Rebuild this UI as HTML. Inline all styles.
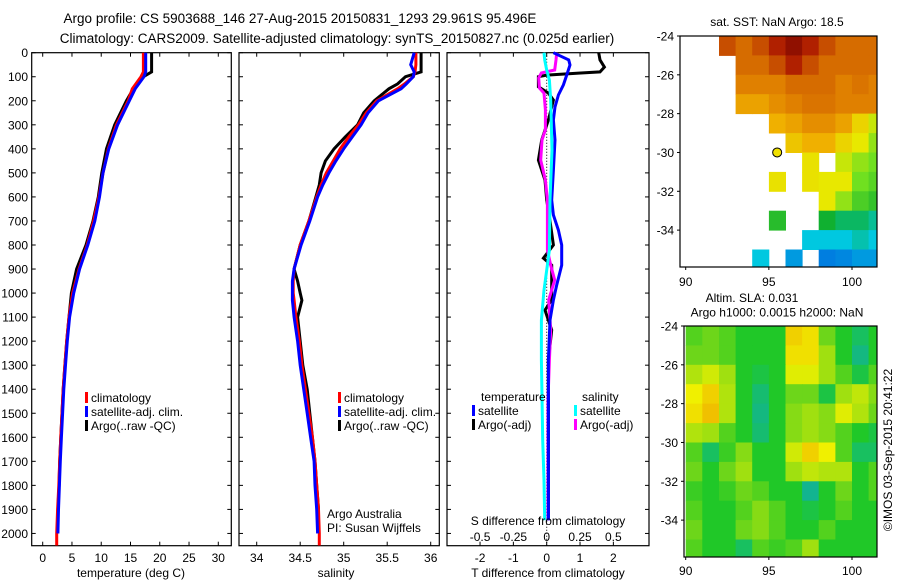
<!DOCTYPE html>
<html><head><meta charset="utf-8">
<style>
html,body{margin:0;padding:0;background:#fff;}
svg{display:block;font-family:"Liberation Sans",sans-serif;}
</style></head>
<body>
<svg id="fig" width="900" height="580" viewBox="0 0 900 580" xmlns="http://www.w3.org/2000/svg">
<rect x="0" y="0" width="900" height="580" fill="#fff"/>
<text x="300" y="23" font-size="13.5" text-anchor="middle">Argo profile: CS 5903688_146 27-Aug-2015 20150831_1293 29.961S 95.496E</text>
<text x="337" y="43" font-size="13.5" text-anchor="middle">Climatology: CARS2009. Satellite-adjusted climatology: synTS_20150827.nc (0.025d earlier)</text>
<g id="plots"></g>
</svg>
<script>
// ---- profile data ----
const tDepth = [0,80,100,150,200,300,400,500,600,700,800,900,1000,1100,1200,1300,1400,1500,1600,1700,1800,1900,2000,2050];
const tArgo  = [18.6,18.6,17.2,15.5,14.3,12.3,10.9,10.1,9.5,8.6,7.4,5.8,4.9,4.5,4.1,3.8,3.5,3.3,3.1,2.9,2.8,2.6,2.5,null];
const tClim  = [17.2,17.2,16.8,15.3,14.6,12.6,11.2,10.3,9.6,8.7,7.6,6.2,5.1,4.5,4.1,3.8,3.5,3.3,3.1,2.9,2.75,2.55,2.4,2.4];
const tSat   = [17.6,17.6,17.3,15.8,14.8,12.8,11.3,10.3,9.7,8.9,7.7,6.3,5.3,4.6,4.2,3.9,3.6,3.4,3.2,3.0,2.85,2.7,2.6,null];
const sDepth = [0,50,80,100,130,150,200,250,300,350,400,450,500,550,600,700,800,900,950,1000,1030,1100,1200,1300,1400,1500,1600,1700,1800,1900,2000,2050];
const sArgo  = [35.89,35.89,35.89,35.71,35.62,35.52,35.35,35.23,35.16,35.02,34.89,34.79,34.74,34.72,34.68,34.60,34.50,34.43,34.47,34.50,34.52,34.47,34.50,34.53,34.58,34.61,34.64,34.67,34.69,34.71,null,null];
const sSat   = [35.81,35.77,35.81,35.80,35.72,35.66,35.40,35.28,35.20,35.10,35.00,34.91,34.83,34.76,34.70,34.61,34.51,34.43,34.41,34.41,34.41,34.43,34.47,34.50,34.54,34.58,34.62,34.66,34.67,34.69,34.70,null];
const sClim  = [35.83,35.83,35.82,35.80,35.70,35.62,35.38,35.26,35.17,35.06,34.96,34.88,34.80,34.74,34.69,34.60,34.50,34.43,34.42,34.42,34.43,34.45,34.49,34.52,34.56,34.60,34.64,34.67,34.69,34.71,34.72,34.72];
// difference panel
const dTArgoDepth = [0,30,60,80,85,93,100,142,168,197,280,363,447,530,613,700,800,855,884,950,1029,1071,1154,1279,1445,1700,1945];
const dTArgo      = [1.56,1.6,1.73,1.6,0.96,0,-0.25,-0.25,0.05,0.2,0.05,-0.15,-0.25,-0.05,0,0.1,0.2,-0.1,0.15,0.15,0.15,-0.05,0.15,0.05,0.05,0.05,0.05];
const dTSatDepth  = [0,30,51,93,134,176,226,280,363,488,613,675,738,800,884,967,1029,1113,1279,1945];
const dTSat       = [0.2,0.66,0.7,0.6,0.5,0.35,0.25,0.2,0.25,0.2,0.15,0.2,0.35,0.45,0.45,0.3,0.2,0.1,0.05,0.05];
const dSSatDepth  = [0,30,72,114,197,405,613,821,905,988,1113,1279,1612,1779,1945];
const dSSat       = [-0.02,-0.015,0,0.02,0.03,0.04,0.025,0.02,0,-0.02,-0.04,-0.04,-0.03,-0.02,-0.015];
const dSArgoDepth = [0,30,72,84,105,147,168,238,321,363,447,530,613,821,884,946,1029,1154,1279,1445,1945];
const dSArgo      = [0.075,0.07,0.06,-0.04,-0.06,-0.055,-0.02,-0.01,-0.01,-0.035,-0.045,-0.01,0.005,0.005,0.03,0.06,0.015,0.03,0.02,0.01,0.01];
const depthTicks = [0,100,200,300,400,500,600,700,800,900,1000,1100,1200,1300,1400,1500,1600,1700,1800,1900,2000];
const tTicks = [0,5,10,15,20,25,30];
const sTicks = [34,34.5,35,35.5,36];
const sTickLabels = ["34","34.5","35","35.5","36"];
const dTTicks = [-2,-1,0,1,2];
const dSTicks = [-0.5,-0.25,0,0.25,0.5];
const dSTickLabels = ["-0.5","-0.25","0","0.25","0.5"];
// map data (rows lat -24..-35, cols lon 90..101), null = no data
const mapLats = [-24,-25,-26,-27,-28,-29,-30,-31,-32,-33,-34,-35];
const mapLons = [90,91,92,93,94,95,96,97,98,99,100,101];
const sst = [
[null,null,21,20.5,21,21.5,22,21.5,21,20.5,20.5,20.5],
[null,null,null,20.5,20.5,21,21.5,21,20.5,20.5,20.5,20.5],
[null,null,null,20,20,20,20.5,20.5,20.5,20,20.3,20],
[null,null,null,19.5,19.5,19.8,20,20.3,20.3,20,20,20],
[null,null,null,null,null,19.3,19.5,19.8,19.8,19.5,18.8,18.3],
[null,null,null,null,null,null,19,19.3,19.3,18.8,18.5,18],
[null,null,null,null,null,null,null,18.6,null,18.3,18,17.8],
[null,null,null,null,null,18.6,null,18.6,18.5,18.5,17.8,17.6],
[null,null,null,null,null,null,null,null,18.5,18,17.5,17.3],
[null,null,null,null,null,17.2,null,null,17,16.8,16.8,16.6],
[null,null,null,null,null,null,null,16.3,16.3,16.3,16.5,16.3],
[null,null,null,null,16.3,null,15.8,null,15.5,15.6,15.8,15.8]];
const sla = [
[0.02,0.03,0.02,0,0,0,0.12,0.11,0.03,0,-0.02,0],
[0.03,0.03,0.02,0,0,0,0.11,0.11,0.05,0,-0.04,0],
[0.06,0.08,0.05,0,-0.01,0,0.09,0.09,0.05,0.02,-0.01,0.02],
[0.1,0.12,0.06,0,-0.03,0,0.03,0.03,-0.01,0.05,0.07,0.04],
[0.11,0.13,0.06,0,-0.04,0,0.04,0.05,0.04,0.09,0.06,0.03],
[0.06,0.05,0.02,0,-0.03,0,0.04,0.05,0.04,0.02,0,-0.01],
[0.02,-0.02,0.01,0.04,0,0,0.08,0.12,0.1,0.02,-0.02,-0.02],
[0.03,0,0.03,0.05,0,0,0.05,0.07,0.06,0.06,0,0.02],
[0.01,0,0.01,0.03,0.02,0,0,-0.05,0,0.03,0,0.02],
[0.02,0,0,0.02,0.04,0.02,0,-0.01,0,0.02,0,0],
[0.03,0,0,0.03,0.04,0.02,0,0,0.02,0,0,0],
[0.02,0,0,-0.02,0.02,0.01,0.02,0.05,0,0,0,0]];
const argoPos = [95.5,-30];
const mapLatTicks = [-24,-26,-28,-30,-32,-34];
const mapLonTicks = [90,95,100];

const NS="http://www.w3.org/2000/svg";
const root=document.getElementById('plots');
function mk(tag,attrs,parent,txt){const e=document.createElementNS(NS,tag);for(const k in attrs)e.setAttribute(k,attrs[k]);if(txt!==undefined)e.textContent=txt;(parent||root).appendChild(e);return e;}

// axis functions
const Y0=52.7, YB=545.7, DMAX=2051;
const yD=d=>Y0+d*(YB-Y0)/DMAX;
const xT=v=>42.7+v*5.853;
const xS=v=>256.7+(v-34)*87;
const xDT=v=>546.7+v*33.33;
const xDS=v=>546.7+v*133.3;

function panel(x0,x1,name){
  const g=mk('g',{});
  
  
  const r=mk('rect',{x:x0,y:Y0,width:x1-x0,height:YB-Y0,fill:'none',stroke:'#000','stroke-width':1.2},g);
  
  
  depthTicks.forEach(d=>{const y=yD(d);
    mk('line',{x1:x0,x2:x0+4,y1:y,y2:y,stroke:'#000'},g);
    mk('line',{x1:x1-4,x2:x1,y1:y,y2:y,stroke:'#000'},g);});
  return g;
}
function xticks(g,x0,x1,ticks,fx,labels,ly){
  ticks.forEach((t,i)=>{const x=fx(t);
    mk('line',{x1:x,x2:x,y1:YB,y2:YB-4,stroke:'#000'},g);
    mk('line',{x1:x,x2:x,y1:Y0,y2:Y0+4,stroke:'#000'},g);
    if(labels){const l=mk('text',{x:x,y:ly,'font-size':12,'text-anchor':'middle'},g,labels[i]);
      
      }
  });
}
function line(g,depths,vals,fx,color,name){
  const pts=[];depths.forEach((d,i)=>{if(vals[i]!==null)pts.push(fx(vals[i]).toFixed(1)+','+yD(d).toFixed(1));});
  const p=mk('polyline',{points:pts.join(' '),fill:'none',stroke:color,'stroke-width':3,'stroke-linejoin':'miter'},g);
  
  
}
function legend(g,x,y,color,text,name){
  mk('rect',{x:x,y:y-10,width:3,height:11,fill:color},g);
  const t=mk('text',{x:x+6,y:y,'font-size':12},g,text);
  
  
}
depthTicks.forEach(d=>{const t=mk('text',{x:28,y:yD(d)+4.5,'font-size':12,'text-anchor':'end'},root,String(d));
  
  });

// panel 1 temperature
const p1=panel(31.7,231.3,'temperature-panel');
xticks(p1,31.7,231.3,tTicks,xT,tTicks.map(String),562);
line(p1,tDepth,tArgo,xT,'#000','temp-argo-line');
line(p1,tDepth,tClim,xT,'#f00','temp-clim-line');
line(p1,tDepth,tSat,xT,'#00f','temp-sat-line');
legend(p1,85,402,'#f00','climatology','legend-climatology');
legend(p1,85,416,'#00f','satellite-adj. clim.','legend-satellite-adj');
legend(p1,85,430,'#000','Argo(..raw -QC)','legend-argo');
const xt1=mk('text',{x:131,y:577,'font-size':12,'text-anchor':'middle'},p1,'temperature (deg C)');



// panel 2 salinity
const p2=panel(239,439.3,'salinity-panel');
xticks(p2,239,439.3,sTicks,xS,sTickLabels,562);
line(p2,sDepth,sArgo,xS,'#000','sal-argo-line');
line(p2,sDepth,sClim,xS,'#f00','sal-clim-line');
line(p2,sDepth,sSat,xS,'#00f','sal-sat-line');
legend(p2,338,402,'#f00','climatology','legend-climatology-2');
legend(p2,338,416,'#00f','satellite-adj. clim.','legend-satellite-adj-2');
legend(p2,338,430,'#000','Argo(..raw -QC)','legend-argo-2');
const xt2=mk('text',{x:336,y:577,'font-size':12,'text-anchor':'middle'},p2,'salinity');


mk('text',{x:327,y:518,'font-size':12},p2,'Argo Australia');
mk('text',{x:327,y:532,'font-size':12},p2,'PI: Susan Wijffels');

// panel 3 differences
const p3=panel(447,649,'difference-panel');
xticks(p3,447,649,dTTicks,xDT,dTTicks.map(String),562);
mk('line',{x1:xDT(0),x2:xDT(0),y1:Y0,y2:YB,stroke:'#000','stroke-dasharray':'1,2'},p3);
line(p3,dTArgoDepth,dTArgo,xDT,'#000','dT-argo-line');
line(p3,dSArgoDepth,dSArgo,xDS,'#f0f','dS-argo-line');
line(p3,dTSatDepth,dTSat,xDT,'#00f','dT-sat-line');
line(p3,dSSatDepth,dSSat,xDS,'#0ff','dS-sat-line');
dSTicks.forEach((t,i)=>{mk('text',{x:xDS(t),y:541,'font-size':12,'text-anchor':'middle'},p3,dSTickLabels[i]);});
mk('text',{x:548,y:525,'font-size':12,'text-anchor':'middle'},p3,'S difference from climatology');
const xt3=mk('text',{x:548,y:577,'font-size':12,'text-anchor':'middle'},p3,'T difference from climatology');


mk('text',{x:481,y:401,'font-size':12},p3,'temperature');
mk('text',{x:582,y:401,'font-size':12},p3,'salinity');
legend(p3,472,415,'#00f','satellite','legend-t-satellite');
legend(p3,472,429,'#000','Argo(-adj)','legend-t-argo');
legend(p3,574,415,'#0ff','satellite','legend-s-satellite');
legend(p3,574,429,'#f0f','Argo(-adj)','legend-s-argo');

// maps
function lerpColor(stops,v){
  if(v<=stops[0][0])return stops[0][1];
  for(let i=1;i<stops.length;i++){if(v<=stops[i][0]){const a=stops[i-1],b=stops[i];const f=(v-a[0])/(b[0]-a[0]);
    const ca=a[1].match(/\w\w/g).map(h=>parseInt(h,16)),cb=b[1].match(/\w\w/g).map(h=>parseInt(h,16));
    return '#'+ca.map((c,j)=>Math.round(c+(cb[j]-c)*f).toString(16).padStart(2,'0')).join('');}}
  return stops[stops.length-1][1];
}
const sstStops=[[15,'#0050e0'],[16.3,'#00c8e0'],[17,'#10b030'],[17.8,'#70e020'],[18.5,'#e8e800'],[19.3,'#f0b000'],[20,'#e08000'],[20.8,'#d06000'],[21.5,'#b02000'],[22,'#901000']];
const slaStops=[[-0.06,'#10b0a0'],[-0.02,'#18c060'],[0,'#20c828'],[0.05,'#a0e010'],[0.1,'#f0f000'],[0.14,'#f0b000']];
function drawMap(name,left,right,top,bottom,grid,stops,titleLines,titleY,xlabY){
  const g=mk('g',{});
  
  
  const lonX=lon=>685.7+(lon-90)*16.63;
  const latY=lat=>top+(-24-lat)*((bottom-top)/11.9);
  const cid=name+'-clip';
  const cp=mk('clipPath',{id:cid},g);mk('rect',{x:left,y:top,width:right-left,height:bottom-top},cp);
  const cells=mk('g',{'clip-path':'url(#'+cid+')'},g);
  grid.forEach((row,i)=>row.forEach((v,j)=>{
    if(v===null)return;
    const x=lonX(mapLons[j]), y=latY(mapLats[i]);
    const w=lonX(mapLons[j]+1)-x+0.5, h=latY(mapLats[i]-1)-y+0.5;
    const c=mk('rect',{x:x.toFixed(1),y:y.toFixed(1),width:w.toFixed(1),height:h.toFixed(1),fill:lerpColor(stops,v)},cells);
    
    
  }));
  mk('rect',{x:left,y:top,width:right-left,height:bottom-top,fill:'none',stroke:'#000','stroke-width':1.2},g);
  mapLatTicks.forEach(t=>{const y=latY(t);mk('line',{x1:left-3,x2:left,y1:y,y2:y,stroke:'#000'},g);
    mk('text',{x:left-6,y:y+4.5,'font-size':12,'text-anchor':'end'},g,String(t));});
  mapLonTicks.forEach(t=>{const x=lonX(t);mk('line',{x1:x,x2:x,y1:bottom,y2:bottom+3,stroke:'#000'},g);
    mk('text',{x:x,y:xlabY,'font-size':12,'text-anchor':'middle'},g,String(t));});
  titleLines.forEach((t,i)=>mk('text',{x:t[1],y:titleY+i*14.5,'font-size':12,'text-anchor':'middle'},g,t[0]));
  return {g,lonX,latY};
}
const m1=drawMap('sst-map',680,877,36,267,sst,sstStops,[['sat. SST: NaN Argo: 18.5',777]],26,286);
const mk1=mk('circle',{cx:m1.lonX(argoPos[0]),cy:m1.latY(argoPos[1]),r:4.5,fill:'#f0e000',stroke:'#000','stroke-width':1},m1.g);


drawMap('sla-map',684,877,326,557,sla,slaStops,[['Altim. SLA: 0.031',752],['Argo h1000: 0.0015 h2000: NaN',777]],302,575);
const stamp=mk('text',{x:0,y:0,'font-size':12,'text-anchor':'middle',transform:'translate(892,450) rotate(-90)'},root,'©IMOS 03-Sep-2015 20:41:22');


</script>
</body></html>
